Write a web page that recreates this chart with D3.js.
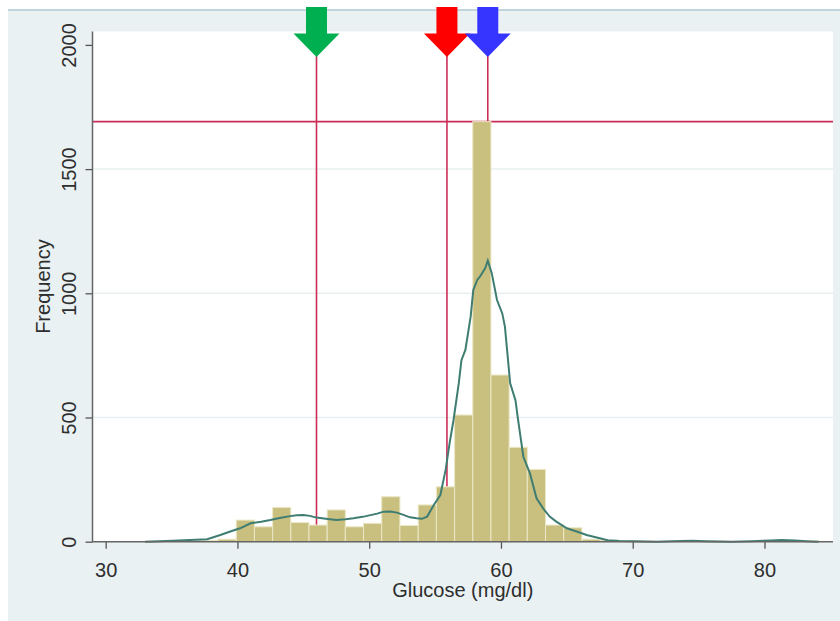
<!DOCTYPE html>
<html>
<head>
<meta charset="utf-8">
<script src="https://cdn.jsdelivr.net/npm/d3@7"></script>
<style>
  body { margin: 0; background: #ffffff; }
  text { font-family: "Liberation Sans", Arial, sans-serif; fill: #2e2e2e; }
</style>
</head>
<body>
<svg id="graph" width="840" height="621"></svg>
<script>
// bornes des classes de l'histogramme (mg/dl)
var binEdges = [33.00, 34.38, 35.76, 37.14, 38.52, 39.91, 41.29, 42.67, 44.05, 45.43,
  46.81, 48.19, 49.57, 50.95, 52.33, 53.72, 55.10, 56.48, 57.86, 59.24,
  60.62, 62.00, 63.38, 64.76, 66.14, 67.53, 68.91, 70.29, 71.67, 73.05,
  74.43, 75.81, 77.19, 78.57, 79.95, 81.34, 82.72, 84.10];
// effectifs de chaque classe
var counts = [2, 2, 3, 5, 10, 87, 60, 138, 77, 67,
  128, 60, 74, 181, 65, 148, 221, 510, 1691, 671,
  380, 291, 67, 56, 10, 6, 3, 2, 1, 2,
  3, 2, 1, 2, 4, 5, 3];

// courbe de densité (noyau), en fréquence
var kdeX = [33.0, 35.1, 37.7, 38.7, 39.4, 40.2, 41.0, 41.8, 42.5, 43.2, 44.0, 44.5, 45.0, 45.5, 46.0,
  46.7, 47.5, 48.2, 48.8, 49.5, 50.1, 50.6, 51.1, 51.6, 52.1, 52.6, 53.1, 53.6, 54.0, 54.4,
  54.9, 55.4, 55.8, 56.1, 56.4, 56.8, 57.0, 57.3, 57.7, 57.9, 58.2, 58.4, 58.8, 59.0, 59.3,
  59.7, 60.1, 60.3, 60.7, 61.1, 61.3, 61.7, 62.2, 62.7, 63.2, 63.7, 64.2, 65.0, 65.8, 66.5,
  67.5, 68.1, 69.0, 70.0, 71.0, 71.8, 73.0, 74.5, 75.5, 76.5, 77.5, 79.0, 80.5, 81.3, 82.3,
  83.2, 84.1];
var kdeY = [0, 4, 10, 27, 40, 54, 74, 80, 87, 95, 103, 106, 107, 104, 97,
  92, 87, 90, 94, 100, 107, 113, 121, 122, 117, 108, 98, 94, 92, 101,
  148, 188, 289, 396, 490, 638, 731, 772, 906, 1013, 1054, 1067, 1101, 1131, 1081,
  973, 919, 866, 638, 570, 490, 342, 275, 175, 134, 101, 81, 54, 40, 27,
  14, 6, 3, 2, 1, 0, 2, 4, 2, 1, 0, 2, 5, 7, 5,
  2, 0];

// repères : flèches et lignes
var markValues = [46, 55.9, 59];
var markColors = ["#00b050", "#ff0000", "#3535ff"];
var refLevel = 1691;

var xTicks = [30, 40, 50, 60, 70, 80];
var yTicks = [0, 500, 1000, 1500, 2000];
var yGrid = [500, 1000, 1500];

var svg = d3.select("#graph");

// fond du graphique
svg.append("rect").attr("x", 8).attr("y", 9).attr("width", 832).attr("height", 612).attr("fill", "#eaf1f3");
svg.append("line").attr("x1", 8).attr("x2", 840).attr("y1", 10).attr("y2", 10)
  .attr("stroke", "#c3d5dc").attr("stroke-width", 2);

var pLeft = 92.5, pRight = 833, pTop = 31.5, pBase = 541.7;
svg.append("rect").attr("x", pLeft).attr("y", pTop).attr("width", pRight - pLeft).attr("height", pBase - pTop)
  .attr("fill", "#ffffff");

var scaleX = d3.scaleLinear().domain([29, 85.2]).range([pLeft, pRight]);
var scaleY = d3.scaleLinear().domain([0, 2000]).range([pBase, 44.9]);

// grille
svg.append("g").selectAll("line").data(yGrid).join("line")
  .attr("x1", pLeft).attr("x2", pRight)
  .attr("y1", function(d) { return scaleY(d); }).attr("y2", function(d) { return scaleY(d); })
  .attr("stroke", "#e9eff1").attr("stroke-width", 1.5);

// lignes de référence (sous les barres)
var lineColor = "#cc2d57";
svg.append("line").attr("x1", pLeft).attr("x2", pRight)
  .attr("y1", scaleY(refLevel)).attr("y2", scaleY(refLevel))
  .attr("stroke", lineColor).attr("stroke-width", 1.6);
svg.append("g").selectAll("line").data(markValues).join("line")
  .attr("x1", function(d) { return scaleX(d); }).attr("x2", function(d) { return scaleX(d); })
  .attr("y1", 56).attr("y2", pBase)
  .attr("stroke", lineColor).attr("stroke-width", 1.6);

// barres
svg.append("g").selectAll("rect").data(counts).join("rect")
  .attr("x", function(d, i) { return scaleX(binEdges[i]); })
  .attr("width", function(d, i) { return scaleX(binEdges[i + 1]) - scaleX(binEdges[i]); })
  .attr("y", function(d) { return scaleY(d); })
  .attr("height", function(d) { return pBase - scaleY(d); })
  .attr("fill", "#c9c07f").attr("stroke", "#ebe7c6").attr("stroke-width", 1);

// densité
var lValues = d3.line()
  .x(function(d, i) { return scaleX(kdeX[i]); })
  .y(function(d) { return scaleY(d); });
svg.append("path").attr("d", lValues(kdeY))
  .attr("fill", "none").attr("stroke", "#3f7d72").attr("stroke-width", 2);

// axe Y
var gy = svg.append("g").attr("transform", "translate(" + pLeft + ",0)")
  .call(d3.axisLeft(scaleY).tickValues(yTicks).tickFormat(d3.format("d")).tickSize(7).tickSizeOuter(0));
gy.select(".domain").remove();
gy.selectAll(".tick line").attr("stroke", "#555").attr("stroke-width", 1.3);
gy.selectAll(".tick text")
  .attr("transform", "rotate(-90)").attr("x", 0).attr("y", -17).attr("dy", 0)
  .attr("text-anchor", "middle").attr("font-family", null).attr("font-size", 20).attr("fill", "#2e2e2e");
svg.append("line").attr("x1", pLeft).attr("x2", pLeft).attr("y1", pTop).attr("y2", pBase + 0.5)
  .attr("stroke", "#666").attr("stroke-width", 1.5);

// axe X
var gx = svg.append("g").attr("transform", "translate(0," + pBase + ")")
  .call(d3.axisBottom(scaleX).tickValues(xTicks).tickSize(7).tickSizeOuter(0));
gx.select(".domain").remove();
gx.selectAll(".tick line").attr("stroke", "#555").attr("stroke-width", 1.3);
gx.selectAll(".tick text").attr("y", 35).attr("dy", 0)
  .attr("font-family", null).attr("font-size", 20).attr("fill", "#2e2e2e");
svg.append("line").attr("x1", pLeft).attr("x2", pRight).attr("y1", pBase).attr("y2", pBase)
  .attr("stroke", "#666").attr("stroke-width", 1.5);

// titres des axes
svg.append("text").attr("x", (pLeft + pRight) / 2).attr("y", 597)
  .attr("text-anchor", "middle").attr("font-size", 20).text("Glucose (mg/dl)");
svg.append("text").attr("transform", "translate(50," + ((pTop + pBase) / 2) + ") rotate(-90)")
  .attr("text-anchor", "middle").attr("font-size", 20).text("Frequency");

// flèches
function arrowPath(cx) {
  var p = d3.path();
  p.moveTo(cx - 10.5, 7);
  p.lineTo(cx + 10.5, 7);
  p.lineTo(cx + 10.5, 33.5);
  p.lineTo(cx + 23, 33.5);
  p.lineTo(cx, 57);
  p.lineTo(cx - 23, 33.5);
  p.lineTo(cx - 10.5, 33.5);
  p.closePath();
  return p.toString();
}
svg.append("g").selectAll("path").data(markValues).join("path")
  .attr("d", function(d) { return arrowPath(scaleX(d)); })
  .attr("fill", function(d, i) { return markColors[i]; });
</script>
</body>
</html>
